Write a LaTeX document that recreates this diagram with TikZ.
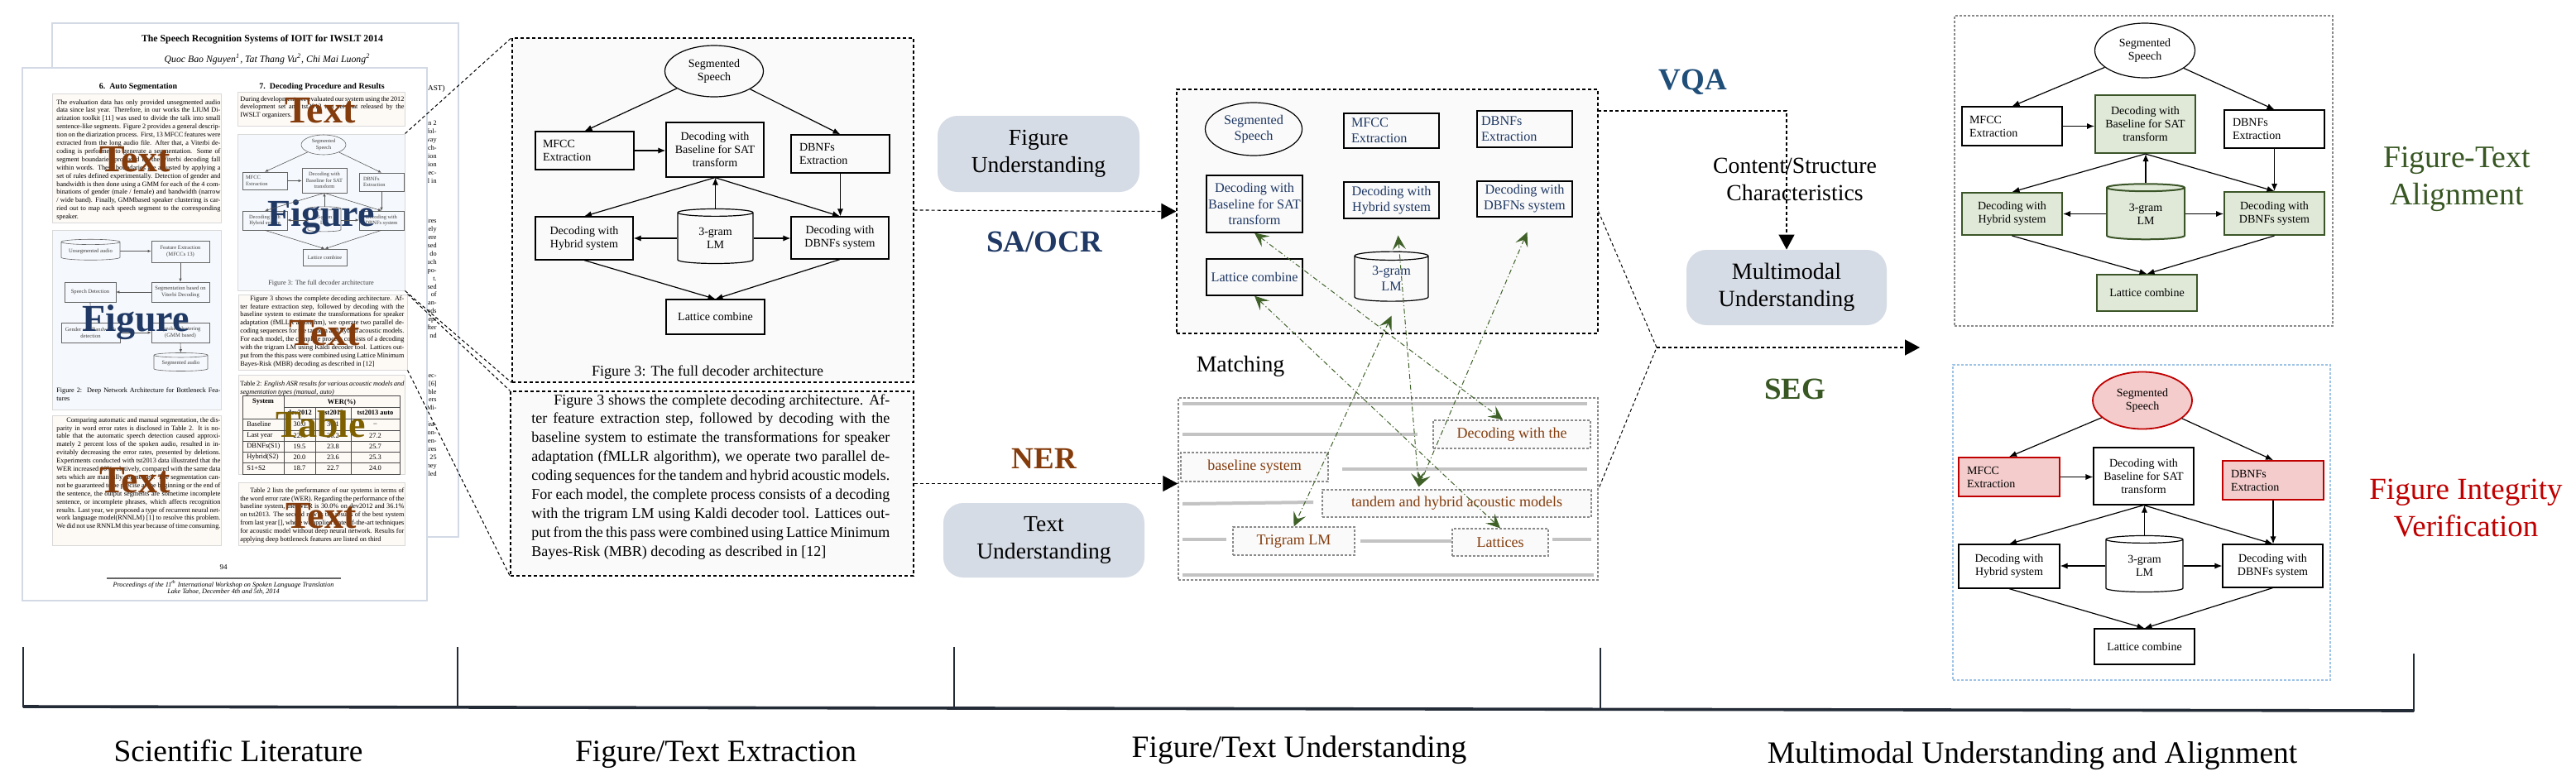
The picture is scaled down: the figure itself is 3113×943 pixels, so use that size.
\documentclass[tikz,border=0pt]{standalone}
\usepackage{fontspec}
\setmainfont{Liberation Serif}
\usetikzlibrary{arrows.meta,shapes.geometric,calc}
\definecolor{navy}{HTML}{1F3864}
\definecolor{vqablue}{HTML}{1F4E79}
\definecolor{brownt}{HTML}{843C0C}
\definecolor{greent}{HTML}{385723}
\definecolor{redt}{HTML}{C00000}
\definecolor{goldt}{HTML}{7F6000}
\definecolor{roundfill}{HTML}{D6DCE5}
\definecolor{gfill}{HTML}{E0E9D8}
\definecolor{gdraw}{HTML}{3B5528}
\definecolor{pfill}{HTML}{F4CCCC}
\definecolor{arrowgreen}{HTML}{3F6128}
\definecolor{paperedge}{HTML}{D3DAE5}
\definecolor{peach}{HTML}{FDF9F5}
\definecolor{lightblue}{HTML}{F5F8FC}
\definecolor{boxedge}{HTML}{D9D9D9}
\definecolor{bargray}{HTML}{C3C3C3}
\definecolor{axiscol}{HTML}{232B37}
\definecolor{figbg}{HTML}{FAFAFA}
\definecolor{blued}{HTML}{9DC3E6}
\definecolor{dgray}{HTML}{8A8A8A}
\newcommand\myfs[2]{\fontsize{#1}{#2}\selectfont}
\tikzset{
  wh/.style 2 args={minimum width={#1*0.5pt},minimum height={#2*0.5pt}},
  nb/.style={draw, line width=0.6pt, inner sep=0pt, align=center},
  nl/.style={draw, line width=0.6pt, inner ysep=0pt, align=left},
  ellnode/.style={ellipse, draw, line width=0.6pt, inner sep=0pt, align=center},
  cylnode/.style={cylinder, shape border rotate=90, aspect=0.22, draw, line width=0.6pt, inner sep=0pt, align=center},
  flowarr/.style={arrows={-Latex[length=4.5pt,width=3.6pt]}, line width=0.6pt},
  flowsm/.style={arrows={-Latex[length=2pt,width=1.7pt]}, line width=0.3pt, draw=black!65},
  darr/.style={dash pattern=on 2pt off 1.5pt, line width=0.6pt, arrows={-Triangle[length=9pt,width=9.5pt]}},
  dline/.style={dash pattern=on 2pt off 1.5pt, line width=0.6pt},
  garr/.style={draw=arrowgreen, line width=0.5pt, dash pattern=on 3pt off 1.5pt on 0.6pt off 1.5pt, arrows={Stealth[length=8.5pt,width=8pt,inset=3.5pt]-Stealth[length=8.5pt,width=8pt,inset=3.5pt]}},
  rbox/.style={rounded corners=12pt, fill=roundfill, inner sep=0pt, align=center, font=\myfs{13.8}{16.5}},
  bigtag/.style={font=\bfseries\myfs{18.5}{20}},
  mylab/.style={font=\myfs{13.9}{16.5}, align=center},
  bigword/.style={anchor=base, font=\bfseries\myfs{23}{23}},
  ptext/.style={anchor=north west, inner sep=0pt, text width=99pt, align=justify, font={\myfs{4.1}{4.95}\tolerance=3000\emergencystretch=3pt}},
  pbox/.style={draw=boxedge, line width=0.5pt, inner sep=0pt},
  graybar/.style={draw=bargray, line width=2pt},
  ttag/.style={draw=dgray, dash pattern=on 1.5pt off 1pt, line width=0.6pt, fill=figbg, inner sep=0pt, text=brownt, font=\myfs{9}{10}},
  axl/.style={anchor=base, font=\myfs{18.75}{20}},
  gbx/.style={fill=gfill, draw=gdraw, line width=1pt},
  pbx/.style={fill=pfill, draw=redt, line width=0.9pt},
  frag/.style={anchor=north east, align=right, inner sep=0pt, font=\myfs{4.1}{4.95}},
  sm/.style={draw=black!60, line width=0.3pt},
}
\begin{document}
\begin{tikzpicture}[x=0.5pt,y=-0.5pt]
\useasboundingbox (0,0) rectangle (3113,943);
\fill[white] (0,0) rectangle (3113,943);

%% ================= papers =================
\node[draw=paperedge, line width=1pt, fill=white, wh={491}{621}, inner sep=0] (backpg) at (308.5,338.5) {};
\node[font=\bfseries\myfs{5.9}{7}] (ptitle) at (317,48) {The Speech Recognition Systems of IOIT for IWSLT 2014};
\node[font=\itshape\myfs{5.9}{7}] (pauth) at (323,72) {Quoc Bao Nguyen\textsuperscript{1}, Tat Thang Vu\textsuperscript{2}, Chi Mai Luong\textsuperscript{2}};
\node[anchor=east, inner sep=0pt, font=\myfs{4.6}{5}] (frA) at (538,107) {AST)};
\node[frag] (fr1) at (528,146) {n 2\\fol-\\vay\\ch-\\ion\\ion\\ec-\\l in};
\node[frag] (fr2) at (528,264) {ires\\ely\\ere\\sed\\do\\ach\\po-\\t.\\sed\\of\\an-\\nds\\ept\\fter\\nd};
\node[frag] (fr3) at (528,452) {ec-\\{[6]}\\ble\\ers\\Mi-\\\mbox{}\\fea-\\on-\\en-\\ires\\25\\hey\\lled};

\node[draw=paperedge, line width=1pt, fill=white, wh={489}{644}, inner sep=0] (frontpg) at (271.5,404) {};
\node[font=\bfseries\myfs{5}{6}] (h6) at (167,105) {6.\ \ Auto Segmentation};
\node[font=\bfseries\myfs{5}{6}] (h7) at (389,105) {7.\ \ Decoding Procedure and Results};

\node[pbox, fill=peach, wh={204}{156}] (pA) at (165,191) {};
\node[pbox, fill=lightblue, wh={204}{217}] (pB) at (165,386.5) {};
\node[pbox, fill=peach, wh={204}{157}] (pC) at (165,580.5) {};
\node[pbox, fill=peach, wh={202}{41}] (pD) at (388,131.5) {};
\node[pbox, fill=lightblue, wh={202}{189}] (pE) at (388,256.5) {};
\node[pbox, fill=peach, wh={204}{91}] (pF) at (390,401.5) {};
\node[pbox, fill=peach, wh={201}{120}] (pG) at (388.5,513) {};
\node[pbox, fill=peach, wh={201}{76}] (pH) at (388.5,621) {};

\node[ptext] (tA) at (68,120) {The evaluation data has only provided unsegmented audio data since last year. Therefore, in our works the LIUM Diarization toolkit [11] was used to divide the talk into small sentence-like segments. Figure 2 provides a general description on the diarization process. First, 13 MFCC features were extracted from the long audio file. After that, a Viterbi decoding is performed to generate a segmentation. Some of segment boundaries produced by the Viterbi decoding fall within words. These boundaries are adjusted by applying a set of rules defined experimentally. Detection of gender and bandwidth is then done using a GMM for each of the 4 combinations of gender (male / female) and bandwidth (narrow / wide band). Finally, GMMbased speaker clustering is carried out to map each speech segment to the corresponding speaker.};
\node[ptext] (tC) at (68,504) {\hspace*{6pt}Comparing automatic and manual segmentation, the disparity in word error rates is disclosed in Table 2. It is notable that the automatic speech detection caused approximately 2 percent loss of the spoken audio, resulted in inevitably decreasing the error rates, presented by deletions. Experiments conducted with tst2013 data illustrated that the WER increased 10\% relatively, compared with the same data sets which are manually segmented. The segmentation cannot be guaranteed to be precise at the beginning or the end of the sentence, the output segments are sometime incomplete sentence, or incomplete phrases, which affects recognition results. Last year, we proposed a type of recurrent neural network language model(RNNLM) [1] to resolve this problem. We did not use RNNLM this year because of time consuming.};
\node[ptext] (tD) at (290,116) {During development, we evaluated our system using the 2012 development set and tst2013 test set that released by the IWSLT organizers.};
\node[ptext] (tF) at (290,357) {\hspace*{6pt}Figure 3 shows the complete decoding architecture. After feature extraction step, followed by decoding with the baseline system to estimate the transformations for speaker adaptation (fMLLR algorithm), we operate two parallel decoding sequences for the tandem and hybrid acoustic models. For each model, the complete process consists of a decoding with the trigram LM using Kaldi decoder tool. Lattices output from the this pass were combined using Lattice Minimum Bayes-Risk (MBR) decoding as described in [12]};
\node[ptext] (tG) at (290,460) {Table 2: \textit{English ASR results for various acoustic models and segmentation types (manual, auto)}};
\node[ptext] (tH) at (290,589) {\hspace*{6pt}Table 2 lists the performance of our systems in terms of the word error rate (WER). Regarding the performance of the baseline system, the WER is 30.0\% on dev2012 and 36.1\% on tst2013. The second row is the results of the best system from last year [], where we applied state-of-the-art techniques for acoustic model without deep neural network. Results for applying deep bottleneck features are listed on third};
\node[ptext] (capB) at (68,468) {Figure 2:\ \ Deep Network Architecture for Bottleneck Features};

% figure 2 in paper
\begin{scope}[every node/.append style={font=\myfs{3.3}{3.8}, text=black!75}]
\node[cylnode, sm, aspect=0.12, wh={71}{25}] (p2-ua) at (109.5,303.5) {Unsegmented audio};
\node[nb, sm, wh={70}{26}] (p2-fe) at (218,304) {Feature Extraction\\(MFCCs 13)};
\node[nb, sm, wh={70}{24}] (p2-sg) at (218,353) {Segmentation based on\\Viterbi Decoding};
\node[nb, sm, wh={62}{24}] (p2-sd) at (109,353) {Speech Detection};
\node[nb, sm, wh={71}{24}] (p2-gb) at (109.5,402) {Gender and Bandwidth\\detection};
\node[nb, sm, wh={70}{24}] (p2-sc) at (218,402) {Speaker clustering\\(GMM based)};
\node[cylnode, sm, aspect=0.12, wh={65}{22}] (p2-sa) at (218.5,439) {Segmented audio};
\end{scope}
\draw[flowsm] (p2-ua.east) -- (p2-ua.east -| p2-fe.west);
\draw[flowsm] (p2-fe.south) -- (p2-sg.north);
\draw[flowsm] (p2-sg.west) -- (p2-sd.east);
\draw[flowsm] (p2-sd.south) -- (p2-gb.north);
\draw[flowsm] (p2-gb.east) -- (p2-sc.west);
\draw[flowsm] (p2-sc.south) -- (p2-sa.north);

% mini figure 3 in paper
\begin{scope}[every node/.append style={font=\myfs{3.2}{3.8}, text=black!75}]
\node[ellnode, sm, wh={54}{24}] (pf-sp) at (391,175) {Segmented\\Speech};
\node[nl, sm, wh={54}{21}, text width=23pt, inner xsep=2pt] (pf-mf) at (320,218.5) {MFCC\\Extraction};
\node[nb, sm, wh={54}{30}] (pf-bl) at (392,218) {Decoding with\\Baseline for SAT\\transform};
\node[nl, sm, wh={54}{22}, text width=22pt, inner xsep=2.5pt] (pf-db) at (461,220) {DBNFs\\Extraction};
\node[nb, sm, wh={54}{23}] (pf-hy) at (320,266.5) {Decoding with\\Hybrid system};
\node[cylnode, sm, wh={40}{30}] (pf-lm) at (392,266) {3-gram\\LM};
\node[nb, sm, wh={54}{23}] (pf-ds) at (461,266.5) {Decoding with\\DBNFs system};
\node[nb, sm, wh={53}{20}] (pf-lc) at (392.5,311) {Lattice combine};
\end{scope}
\node[font=\myfs{4.1}{5}, text=black!75] (pfcap) at (388,342) {Figure 3: The full decoder architecture};

% table in paper
\draw[line width=0.4pt, black!70] (293,478) rectangle (483,573);
\foreach \yy in {506,520,533,546,559} \draw[line width=0.4pt, black!70] (293,\yy) -- (483,\yy);
\draw[line width=0.4pt, black!70] (343,492) -- (483,492);
\draw[line width=0.4pt, black!70] (343,478) -- (343,573);
\draw[line width=0.4pt, black!70] (381,492) -- (381,573);
\draw[line width=0.4pt, black!70] (424,492) -- (424,573);
\begin{scope}[every node/.style={font=\myfs{4.2}{5}, inner sep=0pt}]
\node[font=\bfseries\myfs{4.2}{5}] (tsys) at (318,486) {System};
\node[font=\bfseries\myfs{4.2}{5}] (twer) at (413,486) {WER(\%)};
\node[font=\bfseries\myfs{4.2}{5}] (td12) at (362,499) {dev2012};
\node[font=\bfseries\myfs{4.2}{5}] (tt13) at (402.5,499) {tst2013};
\node[font=\bfseries\myfs{4.2}{5}] (tt13a) at (453.5,499) {tst2013 auto};
\foreach \y/\a/\b/\c/\d in {513/Baseline/30.0/36.1/--, 526.5/Last year/22.4/26.2/27.2, 539.5/DBNFs(S1)/19.5/23.8/25.7, 552.5/Hybrid(S2)/20.0/23.6/25.3, 566/S1+S2/18.7/22.7/24.0} {
  \node[anchor=west] at (298,\y) {\a};
  \node at (362,\y) {\b};
  \node at (402.5,\y) {\c};
  \node at (453.5,\y) {\d};
}
\end{scope}

% footer
\node[font=\myfs{4.5}{5}] (pnum) at (270,686) {94};
\draw[line width=0.6pt, black!60] (129,699) -- (412,699);
\node[font=\itshape\myfs{4.1}{4}, align=center] (pfoot) at (270,710) {Proceedings of the 11\textsuperscript{th} International Workshop on Spoken Language Translation\\Lake Tahoe, December 4th and 5th, 2014};

% overlay words
\node[bigword, text=brownt] (w1) at (163,207) {Text};
\node[bigword, text=brownt] (w2) at (387,148) {Text};
\node[bigword, text=navy] (w3) at (388,273) {Figure};
\node[bigword, text=navy] (w4) at (164,400) {Figure};
\node[bigword, text=brownt] (w5) at (163,595) {Text};
\node[bigword, text=brownt] (w6) at (392,417) {Text};
\node[bigword, text=goldt] (w7) at (388,528) {Table};
\node[bigword, text=brownt] (w8) at (388,638) {Text};

%% ================= Figure 3 (extracted) =================
\node[draw, dline, fill=figbg, wh={485}{416}, inner sep=0] (f3box) at (861.5,254) {};
\begin{scope}[every node/.append style={font=\myfs{7}{8}}]
\node[ellnode, wh={119}{62}] (f3-sp) at (863,86) {Segmented\\Speech};
\node[nl, wh={119}{46}, text width=50.5pt, inner xsep=4.5pt] (f3-mf) at (706.5,182) {MFCC\\Extraction};
\node[nb, wh={118}{66}] (f3-bl) at (864,181) {Decoding with\\Baseline for SAT\\transform};
\node[nl, wh={119}{46}, text width=49.5pt, inner xsep=5pt] (f3-db) at (1015.5,186) {DBNFs\\Extraction};
\node[nb, wh={118}{52}] (f3-hy) at (706,288) {Decoding with\\Hybrid system};
\node[cylnode, wh={91}{66}] (f3-lm) at (864.5,288) {3-gram\\LM};
\node[nb, wh={118}{51}] (f3-ds) at (1015,287.5) {Decoding with\\DBNFs system};
\node[nb, wh={119}{42}] (f3-lc) at (864.5,383) {Lattice combine};
\end{scope}
\node[font=\myfs{9}{10}] (f3cap) at (855,450) {Figure 3: The full decoder architecture};

\node[draw, dline, fill=figbg, wh={487}{223}, inner sep=0] (tb) at (860.5,584.5) {};
\node[anchor=north west, inner sep=0pt, text width=216.5pt, align=justify, font=\myfs{9}{11.45}] (tbtext) at (642,476) {\hspace*{13.5pt}Figure 3 shows the complete decoding architecture. Af-\linebreak ter feature extraction step, followed by decoding with the\linebreak baseline system to estimate the transformations for speaker\linebreak adaptation (fMLLR algorithm), we operate two parallel de-\linebreak coding sequences for the tandem and hybrid acoustic models.\linebreak For each model, the complete process consists of a decoding\linebreak with the trigram LM using Kaldi decoder tool. Lattices out-\linebreak put from the this pass were combined using Lattice Minimum\linebreak Bayes-Risk (MBR) decoding as described in [12]};

\draw[dline, line width=0.5pt] (pE.north east) -- (f3box.north west);
\draw[dline, line width=0.5pt] (pE.south east) -- (f3box.south west);
\draw[dline, line width=0.5pt] (pF.north east) -- (tb.north west);
\draw[dline, line width=0.5pt] (pF.south east) -- (tb.south west);

%% ================= middle =================
\node[rbox, wh={244}{92}] (fu) at (1255,186) {Figure\\Understanding};
\node[bigtag, text=navy] (saocr) at (1262,292) {SA/OCR};
\node[draw, dline, fill=figbg, wh={509}{295}, inner sep=0] (mb) at (1676.5,255.5) {};
\begin{scope}[every node/.append style={font=\myfs{8.1}{9.6}, text=navy}]
\node[ellnode, wh={117}{64}] (m-sp) at (1515,156) {Segmented\\Speech};
\node[nb, wh={116}{69}] (m-bl) at (1516,246.5) {Decoding with\\Baseline for SAT\\transform};
\node[nb, wh={116}{44}] (m-lc) at (1516,335) {Lattice combine};
\node[nl, wh={115}{42}, text width=48.5pt, inner xsep=4.5pt] (m-mf) at (1681.5,158) {MFCC\\Extraction};
\node[nl, wh={115}{44}, text width=52.5pt, inner xsep=2.5pt] (m-db) at (1842.5,156) {DBNFs\\Extraction};
\node[nb, wh={115}{44}] (m-hy) at (1681.5,242) {Decoding with\\Hybrid system};
\node[nb, wh={115}{43}] (m-ds) at (1842.5,240.5) {Decoding with\\DBFNs system};
\node[cylnode, wh={89}{60}] (m-lm) at (1681.5,337) {3-gram\\LM};
\end{scope}

\node[mylab] (match) at (1499,443) {Matching};
\node[bigtag, text=brownt] (ner) at (1262,554) {NER};
\node[rbox, wh={243}{90}] (tu) at (1261.5,653) {Text\\Understanding};
\node[draw=dgray, dash pattern=on 1.5pt off 1pt, line width=0.7pt, fill=white, wh={507}{220}, inner sep=0] (tb2) at (1677.5,591) {};
\draw[graybar] (1429,488) -- (1918,488);
\draw[graybar] (1429,525) -- (1713,525);
\draw[graybar] (1622,567) -- (1918,567);
\draw[graybar] (1429,609) -- (1587,607);
\draw[graybar] (1429,652) -- (1482,652);
\draw[graybar] (1644,654) -- (1754,654);
\draw[graybar] (1876,652) -- (1923,652);
\draw[graybar] (1429,695) -- (1926,695);
\node[ttag, wh={190}{34}] (b-dw) at (1827,525) {Decoding with the};
\node[ttag, wh={178}{35}] (b-bs) at (1516,564.5) {baseline system};
\node[ttag, wh={325}{33}] (b-td) at (1760.5,608.5) {tandem and hybrid acoustic models};
\node[ttag, wh={147}{34}] (b-tr) at (1563.5,654) {Trigram LM};
\node[ttag, wh={116}{33}] (b-la) at (1813,655.5) {Lattices};

\draw[darr] (f3box.east) -- (mb.west);
\draw[darr] (tb.east) -- (tb.east -| tb2.west);

\coordinate (gtd) at ($(b-td.north)+(-46,-3)$);
\draw[garr] (m-lc.south) -- (b-la.north);
\draw[garr] (m-bl.south) -- ($(b-dw.north)+(-11,0)$);
\draw[garr] ($(m-hy.south)+(8,20)$) -- (gtd);
\draw[garr] ($(m-lm.south)+(0,17)$) -- (b-tr.north);
\draw[garr] ($(m-ds.south)+(3,18)$) -- (gtd);

%% ================= right =================
\node[bigtag, text=vqablue] (vqa) at (2046,99) {VQA};
\node[mylab] (cs) at (2169,217) {Content/Structure\\Characteristics};
\node[rbox, wh={242}{91}, font=\myfs{14}{16.5}] (mu) at (2159,347.5) {Multimodal\\Understanding};
\node[bigtag, text=greent] (seg) at (2169,470) {SEG};
\coordinate (m1) at (1931,134);
\draw[darr] (m1) -| (mu.north);
\coordinate (vx) at (2002,420);
\coordinate (vt) at (2320,420);
\draw[dline, line width=0.5pt] (mb.east) -- (vx) -- (tb2.east);
\draw[darr] (vx) -- (vt);

\node[draw=dgray, dash pattern=on 1.5pt off 1pt, line width=0.7pt, wh={457}{375}, inner sep=0] (rtbox) at (2590.5,206.5) {};
\begin{scope}[every node/.append style={font=\myfs{7}{8}}]
\node[ellnode, wh={121}{66}] (rt-sp) at (2592,61) {Segmented\\Speech};
\node[nl, wh={121}{47}, text width=51.5pt, inner xsep=4.5pt] (rt-mf) at (2431.5,152.5) {MFCC\\Extraction};
\node[nb, gbx, wh={121}{70}] (rt-bl) at (2592.5,150) {Decoding with\\Baseline for SAT\\transform};
\node[nl, wh={121}{46}, text width=50.5pt, inner xsep=5pt] (rt-db) at (2748.5,156) {DBNFs\\Extraction};
\node[nb, gbx, wh={121}{51}] (rt-hy) at (2431.5,258.5) {Decoding with\\Hybrid system};
\node[cylnode, gbx, wh={94}{67}] (rt-lm) at (2593,258.5) {3-gram\\LM};
\node[nb, gbx, wh={121}{52}] (rt-ds) at (2748.5,258) {Decoding with\\DBNFs system};
\node[nb, gbx, wh={121}{44}] (rt-lc) at (2594.5,354) {Lattice combine};
\end{scope}
\node[font=\myfs{18.9}{22.5}, text=greent, align=center] (fta) at (2969,217) {Figure-Text\\Alignment};

\node[draw=blued, dash pattern=on 1.5pt off 1pt, line width=0.8pt, wh={456}{381}, inner sep=0] (rbbox) at (2588,631.5) {};
\begin{scope}[every node/.append style={font=\myfs{7}{8}}]
\node[ellnode, pbx, wh={120}{69}] (rb-sp) at (2589,484) {Segmented\\Speech};
\node[nl, pbx, wh={122}{47}, text width=51pt, inner xsep=5pt] (rb-mf) at (2428,576.5) {MFCC\\Extraction};
\node[nb, wh={121}{69}] (rb-bl) at (2590.5,575.5) {Decoding with\\Baseline for SAT\\transform};
\node[nl, pbx, wh={122}{47}, text width=51pt, inner xsep=5pt] (rb-db) at (2747,580.5) {DBNFs\\Extraction};
\node[nb, wh={122}{53}] (rb-hy) at (2428,684.5) {Decoding with\\Hybrid system};
\node[cylnode, wh={93}{68}] (rb-lm) at (2591.5,684) {3-gram\\LM};
\node[nb, wh={121}{52}] (rb-ds) at (2746.5,684) {Decoding with\\DBNFs system};
\node[nb, wh={121}{43}] (rb-lc) at (2591.5,781.5) {Lattice combine};
\end{scope}
\node[font=\myfs{18.5}{22.5}, text=redt, align=center] (fiv) at (2980,614) {Figure Integrity\\Verification};

%% flowchart edges
\foreach \p/\st in {f3/flowarr,rt/flowarr,rb/flowarr,pf/flowsm}{
  \draw[\st] (\p-sp) -- (\p-mf.north);
  \draw[\st] (\p-sp) -- (\p-db.north);
  \draw[\st] (\p-mf.east) -- (\p-mf.east -| \p-bl.west);
  \draw[\st] (\p-bl.south) -- (\p-hy.north);
  \draw[\st] (\p-bl.south) -- (\p-ds.north);
  \draw[\st] (\p-lm.north) -- (\p-lm.north |- \p-bl.south);
  \draw[\st] (\p-db.south) -- (\p-db.south |- \p-ds.north);
  \draw[\st] (\p-lm.west) -- (\p-lm.west -| \p-hy.east);
  \draw[\st] (\p-lm.east) -- (\p-lm.east -| \p-ds.west);
  \draw[\st] (\p-hy.south) -- (\p-lc.north);
  \draw[\st] (\p-ds.south) -- (\p-lc.north);
}

%% ================= axis =================
\draw[axiscol, line width=1.8pt] (28,854) -- (2917,859);
\draw[axiscol, line width=1pt] (28,782) -- (28,855);
\draw[axiscol, line width=0.8pt] (553,782) -- (553,855);
\draw[axiscol, line width=0.8pt] (1153,782) -- (1153,856);
\draw[axiscol, line width=0.8pt] (1934,783) -- (1934,857);
\draw[axiscol, line width=1pt] (2917,790) -- (2917,860);
\node[axl] (l1) at (288,920) {Scientific Literature};
\node[axl] (l2) at (865,920) {Figure/Text Extraction};
\node[axl] (l3) at (1570,915) {Figure/Text Understanding};
\node[axl] (l4) at (2456,922) {Multimodal Understanding and Alignment};
\end{tikzpicture}
\end{document}
